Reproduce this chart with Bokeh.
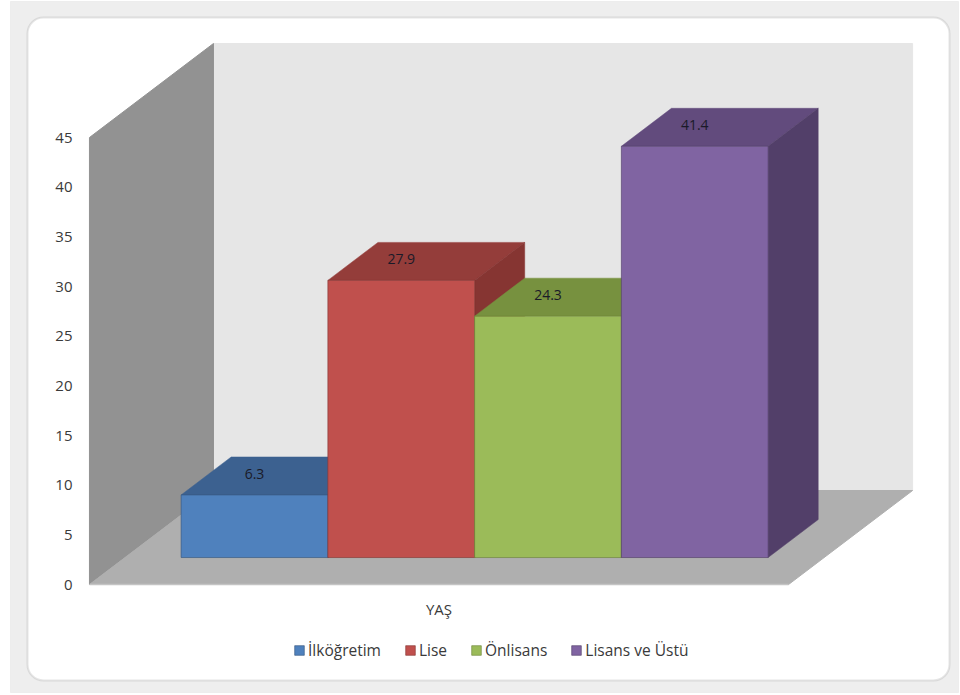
from bokeh.plotting import figure
from bokeh.models import Range1d, ColumnDataSource, BoxAnnotation, Legend, LegendItem
from bokeh.core.properties import value
from bokeh.embed import file_html
from bokeh.resources import INLINE

# ---------------- data ----------------
categories = ["İlköğretim", "Lise", "Önlisans", "Lisans ve Üstü"]
values = [6.3, 27.9, 24.3, 41.4]
value_labels = ["6.3", "27.9", "24.3", "41.4"]
y_ticks = [0, 5, 10, 15, 20, 25, 30, 35, 40, 45]
y_tick_labels = ["0", "5", "10", "15", "20", "25", "30", "35", "40", "45"]
axis_title = "YAŞ"
front_colors = ["#4f81bd", "#c0504d", "#9bbb59", "#8064a2"]
top_colors = ["#3c6190", "#943d3a", "#77913f", "#624b7d"]
side_colors = ["#365780", "#863532", "#6c8439", "#523f69"]

# ---------------- geometry (layout) ----------------
W, H = 960, 695
S = 447.0 / 45.0          # px per value unit
U = 146.75                # px per category unit
X0_PX, Y0_PX = 218.4, 584.0
DX = 124.0 / U            # depth vector (full depth) in x units
DY = 94.0 / S             # depth vector in value units
D0, D1 = 0.287, 0.691     # bar depth span
YMAX = 45
n = len(categories)
GAP = 0.382
XL = -0.5 - GAP
XR = n - 0.5 + GAP

def px(x):
    return (x - X0_PX) / U

def py(y):
    return (Y0_PX - y) / S

FONT_NAME = "Open Sans"
FONT = value(FONT_NAME)

p = figure(width=W, height=H, x_range=Range1d(px(0), px(W)), y_range=Range1d(py(H), py(0)),
           x_axis_type=None, y_axis_type=None, toolbar_location=None,
           output_backend="svg", min_border=0, outline_line_color=None,
           background_fill_color="white", border_fill_color="white")
p.xgrid.visible = False
p.ygrid.visible = False

# spreadsheet frame band and white chart area
p.add_layout(BoxAnnotation(left=px(10), right=px(958), top=py(1), bottom=py(692),
                           fill_color="#eeeeee", fill_alpha=1, line_color="#d8d8d8", line_width=1,
                           level="underlay"))
p.add_layout(BoxAnnotation(left=px(27), right=px(949), top=py(17), bottom=py(680),
                           fill_color="white", fill_alpha=1, line_color="#a9a9a9", line_width=2,
                           border_radius=16, level="underlay"))

# walls
p.quad(left=[XL + DX], right=[XR + DX], bottom=[DY], top=[YMAX + DY],
       fill_color="#e6e6e6", line_color="#e6e6e6")
p.patch(x=[XL, XL, XL + DX, XL + DX], y=[0, YMAX, YMAX + DY, DY],
        fill_color="#929292", line_color="#929292")
p.patch(x=[XL, XR, XR + DX, XL + DX], y=[0, 0, DY, DY],
        fill_color="#afafaf", line_color="#afafaf")
p.line(x=[XL, XR], y=[0, 0], line_color="#c4c4c4", line_width=1.5)

# bars
bd = D1 - D0
front_renderers = []
for i, v in enumerate(values):
    L = i - 0.5 + D0 * DX
    R = i + 0.5 + D0 * DX
    B = D0 * DY
    T = v + D0 * DY
    p.patch(x=[L, R, R + bd * DX, L + bd * DX], y=[T, T, T + bd * DY, T + bd * DY],
            fill_color=top_colors[i], line_color=top_colors[i], line_width=0.5)
    p.patch(x=[R, R + bd * DX, R + bd * DX, R], y=[B, B + bd * DY, T + bd * DY, T],
            fill_color=side_colors[i], line_color=side_colors[i], line_width=0.5)
    src = ColumnDataSource(dict(left=[L], right=[R], bottom=[B], top=[T]))
    r = p.quad(left="left", right="right", bottom="bottom", top="top", source=src,
               fill_color=front_colors[i], line_color=side_colors[i], line_width=0.8,
               line_alpha=0.8)
    front_renderers.append(r)

# value labels on top faces
lab_x = [i + D0 * DX for i in range(n)]
lab_y = [v + 48.0 / S for v in values]
p.text(x=lab_x, y=lab_y, text=value_labels, text_font=FONT, text_font_size="14px",
       text_color="#1a1a28", text_align="center", text_baseline="middle")

# y tick labels
p.text(x=[XL - 17.0 / U] * len(y_ticks), y=y_ticks, text=y_tick_labels, text_font=FONT,
       text_font_size="15px", text_color="#3a3a3a", text_align="right", text_baseline="middle")

# category axis title
p.text(x=[(n - 1) / 2.0], y=[-24.0 / S], text=[axis_title], text_font=FONT,
       text_font_size="15px", text_color="#3a3a3a", text_align="center", text_baseline="middle")

legend = Legend(items=[LegendItem(label=c, renderers=[r]) for c, r in zip(categories, front_renderers)],
                orientation="horizontal", location=(293, 34), padding=0, margin=0, spacing=23,
                glyph_width=12, glyph_height=12, label_height=15, label_standoff=3,
                label_text_font=FONT_NAME, label_text_font_size="15.5px", label_text_color="#3a3a3a",
                background_fill_alpha=0, border_line_color=None)
p.add_layout(legend)

open("out.html", "w").write(file_html(p, INLINE))
